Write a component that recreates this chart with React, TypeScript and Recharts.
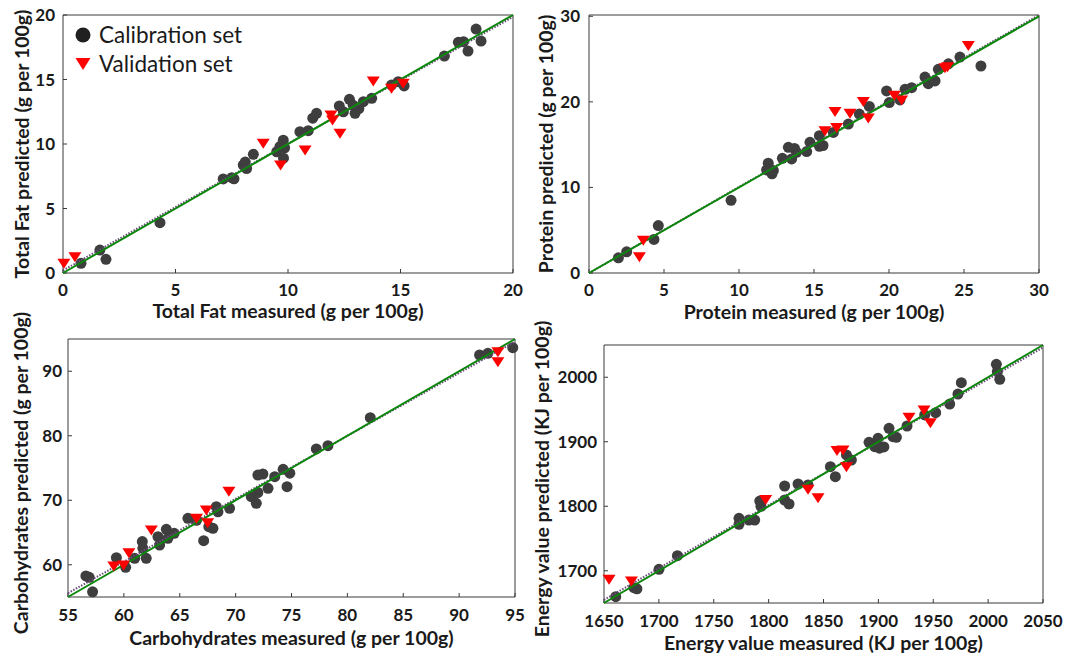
import React from 'react';
import { ScatterChart, Scatter, XAxis, YAxis } from 'recharts';

// ---- Total fat (g per 100g) ----
const fatCalMeasured = [0.8, 1.64, 1.91, 4.31, 7.12, 7.5, 7.6, 8.01, 8.16, 8.1, 8.46, 9.5, 9.64, 9.79, 9.8, 9.85, 10.53, 10.9, 11.1, 11.27, 12.28, 12.46, 12.73, 12.9, 12.98, 13.15, 13.35, 13.72, 14.6, 14.9, 15.16, 16.95, 17.57, 17.8, 18.0, 18.36, 18.58];
const fatCalPredicted = [0.75, 1.78, 1.06, 3.9, 7.29, 7.39, 7.3, 8.37, 8.1, 8.6, 9.2, 9.4, 9.8, 10.3, 8.9, 9.7, 10.95, 11.03, 12.0, 12.38, 12.95, 12.5, 13.46, 13.0, 12.38, 12.75, 13.28, 13.54, 14.57, 14.83, 14.5, 16.82, 17.88, 17.93, 17.2, 18.91, 17.98];
const fatValMeasured = [0.04, 0.53, 8.9, 9.67, 10.76, 11.91, 11.98, 12.31, 13.79, 14.6, 15.12];
const fatValPredicted = [0.75, 1.26, 10.05, 8.37, 9.53, 12.25, 11.86, 10.83, 14.88, 14.32, 14.7];

// ---- Protein (g per 100g) ----
const proteinCalMeasured = [1.96, 2.51, 4.33, 4.62, 9.47, 11.84, 11.95, 12.2, 12.29, 12.89, 13.29, 13.51, 13.7, 13.84, 14.51, 14.73, 15.36, 15.36, 15.6, 16.29, 17.29, 18.02, 18.69, 19.84, 20.02, 20.73, 21.07, 21.51, 22.4, 22.62, 23.07, 23.29, 23.96, 24.73, 26.13];
const proteinCalPredicted = [1.78, 2.48, 3.92, 5.54, 8.49, 12.05, 12.83, 11.6, 11.98, 13.4, 14.69, 13.33, 14.55, 14.1, 14.19, 15.27, 16.05, 14.8, 14.9, 16.43, 17.4, 18.57, 19.46, 21.28, 19.92, 20.23, 21.47, 21.66, 22.9, 22.13, 22.44, 23.8, 24.45, 25.23, 24.19];
const proteinValMeasured = [3.36, 3.62, 15.73, 16.4, 16.51, 17.4, 18.29, 18.62, 20.36, 20.84, 23.73, 23.9, 25.29];
const proteinValPredicted = [1.9, 3.84, 16.63, 18.87, 17.0, 18.68, 20.04, 18.1, 20.78, 20.23, 23.99, 24.1, 26.59];

// ---- Carbohydrates (g per 100g) ----
const carbCalMeasured = [56.6, 56.9, 57.2, 59.33, 60.16, 60.97, 61.65, 61.7, 62.0, 63.05, 63.2, 63.8, 63.94, 64.5, 65.73, 66.5, 67.14, 67.6, 67.97, 68.27, 68.42, 69.46, 71.4, 71.85, 71.99, 72.44, 71.99, 72.9, 73.5, 74.25, 74.6, 74.85, 77.22, 78.26, 82.05, 91.83, 92.57, 94.8];
const carbCalPredicted = [58.26, 58.05, 55.8, 61.1, 59.6, 61.0, 63.6, 62.55, 61.0, 64.35, 63.06, 65.5, 64.1, 64.87, 67.2, 66.9, 63.73, 65.9, 65.65, 69.0, 68.2, 68.75, 70.55, 69.52, 73.9, 74.07, 71.2, 71.85, 73.65, 74.8, 72.1, 74.2, 77.95, 78.46, 82.8, 92.52, 92.78, 93.65];
const carbValMeasured = [59.1, 59.98, 60.45, 62.46, 66.5, 67.38, 67.5, 69.4, 93.47, 93.47];
const carbValPredicted = [59.8, 59.96, 61.87, 65.39, 67.2, 68.49, 66.5, 71.4, 93.03, 91.48];

// ---- Energy value (KJ per 100g) ----
const energyCalMeasured = [1660.7, 1677.3, 1680, 1700.1, 1716.9, 1773, 1773, 1782, 1787.3, 1791.9, 1793, 1814.6, 1814.6, 1818.6, 1826.8, 1835.9, 1856.3, 1860.8, 1870.9, 1875.4, 1891.5, 1896.7, 1901, 1899.7, 1905, 1909.7, 1913.3, 1916.4, 1926.1, 1942.2, 1952.2, 1965, 1972.5, 1975.6, 2007.5, 2008.4, 2010.6];
const energyCalPredicted = [1659.8, 1673.7, 1672, 1702.2, 1723.3, 1781.3, 1772, 1778.7, 1778.7, 1808.1, 1800, 1831.4, 1809.7, 1803.5, 1834.5, 1833, 1861.3, 1845.8, 1879.5, 1871.7, 1899.1, 1892.3, 1890, 1905.3, 1892, 1920.8, 1907.8, 1906.9, 1924.4, 1941.5, 1945, 1958.5, 1974, 1991.6, 2020.1, 2008.6, 1996.8];
const energyValMeasured = [1654.6, 1675, 1797.3, 1835.9, 1845, 1862.3, 1867.8, 1870.9, 1927.9, 1941.6, 1947.4];
const energyValPredicted = [1686.7, 1684.1, 1810.4, 1826.4, 1813.3, 1886.5, 1887.2, 1861.3, 1937.9, 1949.2, 1929.5];

// axes
const fatTicks = [0, 5, 10, 15, 20];
const proteinXTicks = [0, 5, 10, 15, 20, 25, 30];
const proteinYTicks = [0, 10, 20, 30];
const carbXTicks = [55, 60, 65, 70, 75, 80, 85, 90, 95];
const carbYTicks = [60, 70, 80, 90];
const energyXTicks = [1650, 1700, 1750, 1800, 1850, 1900, 1950, 2000, 2050];
const energyYTicks = [1700, 1800, 1900, 2000];

// target (y = x) and fitted regression lines, endpoints [measured, predicted]
const fatIdeal = [[0, 0], [20, 20]];
const fatFit = [[0, 0.2], [20, 19.85]];
const proteinIdeal = [[0, 0], [30, 30]];
const proteinFit = [[0, 0], [30, 30.15]];
const carbIdeal = [[55, 55], [95, 95]];
const carbFit = [[55, 55.6], [95, 94.6]];
const energyIdeal = [[1650, 1650], [2050, 2050]];
const energyFit = [[1650, 1655], [2050, 2046]];

const zip = (xs: number[], ys: number[]) => xs.map((x, i) => ({ x, y: ys[i] }));
const pts = (arr: number[][]) => arr.map(([x, y]) => ({ x, y }));

const FONT = 'Lato, "Noto Sans", sans-serif';
const INK = '#1a1a1a';
const BOX = '#3a3a3a';
const CAL = '#3e3e3e';
const VAL = '#ff0000';

const CalDot = (p: any) => <circle cx={p.cx} cy={p.cy} r={5.5} fill={CAL} />;
const ValTri = (p: any) => (
  <polygon points={`${p.cx - 6.5},${p.cy - 4.5} ${p.cx + 6.5},${p.cy - 4.5} ${p.cx},${p.cy + 5.5}`} fill={VAL} />
);
const NoMark = () => <g />;

interface PanelProps {
  left: number;
  top: number;
  width: number;
  height: number;
  margin: { top: number; right: number; left: number; bottom: number };
  yAxisWidth: number;
  xAxisHeight: number;
  xDomain: number[];
  yDomain: number[];
  xTicks: number[];
  yTicks: number[];
  xTitle: string;
  yTitle: string;
  xTickMargin: number;
  yTickMargin: number;
  xTitleOffset: number;
  yTitleX: number;
  yTitleShift: number;
  cal: { x: number; y: number }[];
  val: { x: number; y: number }[];
  ideal: { x: number; y: number }[];
  fit: { x: number; y: number }[];
}

function Panel(p: PanelProps) {
  const tickStyle = { fill: INK, fontSize: 17, fontWeight: 700, fontFamily: FONT };
  const titleStyle = { fill: INK, fontSize: 19.5, fontWeight: 700, fontFamily: FONT };
  // top / right axes only carry the box edge and the inward ticks, 1px thick
  const margin = { ...p.margin, top: p.margin.top - 1, right: p.margin.right - 1 };

  const yTitle = (lp: any) => {
    const vb = lp.viewBox || {};
    const cx = vb.x + p.yTitleX;
    const cy = vb.y + vb.height / 2 + p.yTitleShift;
    return (
      <text
        x={cx}
        y={cy}
        transform={`rotate(-90 ${cx} ${cy})`}
        textAnchor="middle"
        dominantBaseline="central"
        {...titleStyle}
      >
        {p.yTitle}
      </text>
    );
  };

  return (
    <div style={{ position: 'absolute', left: p.left, top: p.top }}>
      <ScatterChart width={p.width} height={p.height} margin={margin}>
        <XAxis
          type="number"
          dataKey="x"
          domain={p.xDomain}
          ticks={p.xTicks}
          interval={0}
          height={p.xAxisHeight}
          stroke={BOX}
          tickSize={-4}
          tickMargin={p.xTickMargin}
          axisLine={{ stroke: BOX }}
          tickLine={{ stroke: BOX }}
          tick={tickStyle}
          label={{ value: p.xTitle, position: 'insideBottom', offset: p.xTitleOffset, ...titleStyle }}
        />
        <YAxis
          type="number"
          dataKey="y"
          domain={p.yDomain}
          ticks={p.yTicks}
          interval={0}
          width={p.yAxisWidth}
          stroke={BOX}
          tickSize={-4}
          tickMargin={p.yTickMargin}
          axisLine={{ stroke: BOX }}
          tickLine={{ stroke: BOX }}
          tick={tickStyle}
          label={{ content: yTitle }}
        />
        <XAxis
          xAxisId="top"
          orientation="top"
          type="number"
          dataKey="x"
          domain={p.xDomain}
          ticks={p.xTicks}
          interval={0}
          height={1}
          stroke={BOX}
          tickSize={-4}
          axisLine={{ stroke: BOX }}
          tickLine={{ stroke: BOX }}
          tick={false}
        />
        <YAxis
          yAxisId="right"
          orientation="right"
          type="number"
          dataKey="y"
          domain={p.yDomain}
          ticks={p.yTicks}
          interval={0}
          width={1}
          stroke={BOX}
          tickSize={-4}
          axisLine={{ stroke: BOX }}
          tickLine={{ stroke: BOX }}
          tick={false}
        />
        <Scatter xAxisId="top" yAxisId="right" data={p.ideal} shape={NoMark} isAnimationActive={false} legendType="none" />
        <Scatter name="Calibration set" data={p.cal} shape={CalDot} isAnimationActive={false} />
        <Scatter
          data={p.fit}
          shape={NoMark}
          line={{ stroke: '#6a4a7a', strokeWidth: 2, strokeDasharray: '1.5 1.5' }}
          isAnimationActive={false}
          legendType="none"
        />
        <Scatter
          data={p.ideal}
          shape={NoMark}
          line={{ stroke: '#0b870b', strokeWidth: 2 }}
          isAnimationActive={false}
          legendType="none"
        />
        <Scatter name="Validation set" data={p.val} shape={ValTri} isAnimationActive={false} />
      </ScatterChart>
    </div>
  );
}

function LegendBox() {
  return (
    <div style={{ position: 'absolute', left: 73, top: 20, fontFamily: FONT, fontSize: 22.5, color: INK }}>
      <div style={{ display: 'flex', alignItems: 'center', height: 29 }}>
        <svg width={20} height={20} style={{ marginRight: 6 }}>
          <circle cx={10} cy={10} r={7.5} fill="#202020" />
        </svg>
        Calibration set
      </div>
      <div style={{ display: 'flex', alignItems: 'center', height: 29 }}>
        <svg width={20} height={20} style={{ marginRight: 6 }}>
          <polygon points="2.5,4 17.5,4 10,16" fill={VAL} />
        </svg>
        Validation set
      </div>
    </div>
  );
}

export default function App() {
  return (
    <div style={{ position: 'absolute', left: 0, top: 0, width: 1073, height: 656, background: '#fff', overflow: 'hidden' }}>
      <style>{'.recharts-surface { overflow: visible; }'}</style>
      <Panel
        left={0} top={0} width={530} height={325}
        margin={{ top: 15, right: 17, left: 0, bottom: 0 }}
        yAxisWidth={63} xAxisHeight={52}
        xDomain={[0, 20]} yDomain={[0, 20]} xTicks={fatTicks} yTicks={fatTicks}
        xTitle="Total Fat measured (g per 100g)" yTitle="Total Fat predicted (g per 100g)"
        xTickMargin={15} yTickMargin={12} xTitleOffset={7} yTitleX={21} yTitleShift={0}
        cal={zip(fatCalMeasured, fatCalPredicted)} val={zip(fatValMeasured, fatValPredicted)}
        ideal={pts(fatIdeal)} fit={pts(fatFit)}
      />
      <Panel
        left={530} top={0} width={543} height={325}
        margin={{ top: 15, right: 34, left: 0, bottom: 0 }}
        yAxisWidth={59} xAxisHeight={52}
        xDomain={[0, 30]} yDomain={[0, 30]} xTicks={proteinXTicks} yTicks={proteinYTicks}
        xTitle="Protein measured (g per 100g)" yTitle="Protein predicted (g per 100g)"
        xTickMargin={15} yTickMargin={13} xTitleOffset={6} yTitleX={15} yTitleShift={0}
        cal={zip(proteinCalMeasured, proteinCalPredicted)} val={zip(proteinValMeasured, proteinValPredicted)}
        ideal={pts(proteinIdeal)} fit={pts(proteinFit)}
      />
      <Panel
        left={0} top={325} width={530} height={331}
        margin={{ top: 14, right: 15, left: 0, bottom: 0 }}
        yAxisWidth={68} xAxisHeight={59}
        xDomain={[55, 95]} yDomain={[55, 95]} xTicks={carbXTicks} yTicks={carbYTicks}
        xTitle="Carbohydrates measured (g per 100g)" yTitle="Carbohydrates predicted (g per 100g)"
        xTickMargin={15.5} yTickMargin={10} xTitleOffset={11} yTitleX={20.5} yTitleShift={5}
        cal={zip(carbCalMeasured, carbCalPredicted)} val={zip(carbValMeasured, carbValPredicted)}
        ideal={pts(carbIdeal)} fit={pts(carbFit)}
      />
      <Panel
        left={530} top={325} width={543} height={331}
        margin={{ top: 20, right: 30, left: 0, bottom: 0 }}
        yAxisWidth={74} xAxisHeight={53}
        xDomain={[1650, 2050]} yDomain={[1650, 2050]} xTicks={energyXTicks} yTicks={energyYTicks}
        xTitle="Energy value measured (KJ per 100g)" yTitle="Energy value predicted (KJ per 100g)"
        xTickMargin={15.5} yTickMargin={11} xTitleOffset={6.5} yTitleX={11} yTitleShift={5}
        cal={zip(energyCalMeasured, energyCalPredicted)} val={zip(energyValMeasured, energyValPredicted)}
        ideal={pts(energyIdeal)} fit={pts(energyFit)}
      />
      <LegendBox />
    </div>
  );
}
